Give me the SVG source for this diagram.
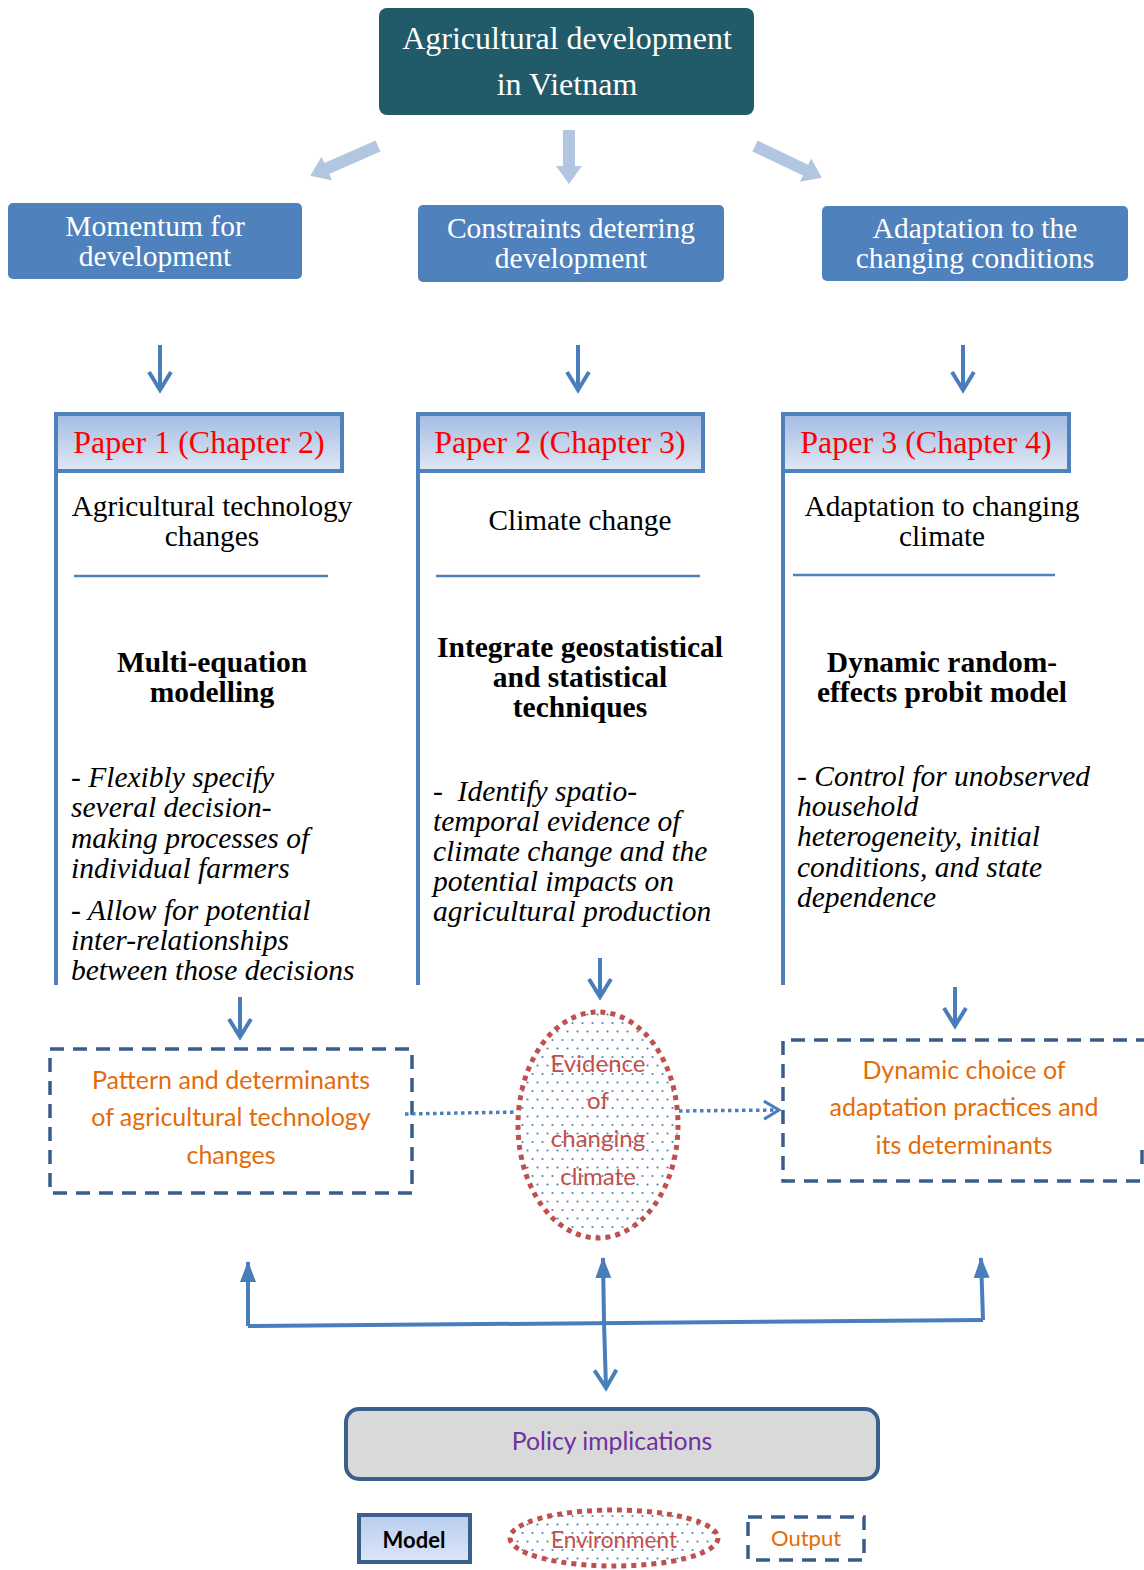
<svg xmlns="http://www.w3.org/2000/svg" width="1144" height="1570" viewBox="0 0 1144 1570">
<style>
.top{font-family:"Liberation Serif",serif;font-size:32px;fill:#fff;text-anchor:middle}
.theme{font-family:"Liberation Serif",serif;font-size:29.5px;fill:#fff;text-anchor:middle}
.hdr{font-family:"Liberation Serif",serif;font-size:32px;fill:#ff0000;text-anchor:middle}
.sub{font-family:"Liberation Serif",serif;font-size:29.3px;fill:#000;text-anchor:middle}
.bold{font-family:"Liberation Serif",serif;font-size:29.5px;font-weight:bold;fill:#000;text-anchor:middle}
.ital{font-family:"Liberation Serif",serif;font-size:29.5px;font-style:italic;fill:#000}
.out{font-family:Lato,"Open Sans",sans-serif;font-size:25px;fill:#e36c09;text-anchor:middle}
.env{font-family:Lato,"Open Sans",sans-serif;font-size:24px;fill:#c0504d;text-anchor:middle}
.pol{font-family:Lato,"Open Sans",sans-serif;font-size:24.8px;fill:#7030a0;text-anchor:middle}
.theme-box{fill:#4f81bd}
.hbox{fill:url(#hgrad);stroke:#4f81bd;stroke-width:4}
.vline{stroke:#4f81bd;stroke-width:4;fill:none}
.sep{stroke:#4f81bd;stroke-width:2.5}
.dash{fill:#fff;stroke:#385d8a;stroke-width:3.5;stroke-dasharray:14 9}
.ell{fill:url(#dots);stroke:#c0504d;stroke-width:5;stroke-dasharray:5 5}
.arr{stroke:#4a7ebb;stroke-width:4;fill:none}
.dot{stroke:#4a7ebb;stroke-width:3.5;fill:none;stroke-dasharray:3.5 3.5}
.light{fill:#b3c6e0}
</style>
<defs>
<linearGradient id="hgrad" x1="0" y1="0" x2="0" y2="1">
<stop offset="0" stop-color="#a3bce2"/>
<stop offset="1" stop-color="#e0e8f5"/>
</linearGradient>
<linearGradient id="mgrad" x1="0" y1="0" x2="0" y2="1">
<stop offset="0" stop-color="#b9cdee"/>
<stop offset="1" stop-color="#dbe6f8"/>
</linearGradient>
<pattern id="dots" width="10" height="17" patternUnits="userSpaceOnUse">
<rect width="10" height="17" fill="#fff"/>
<circle cx="2.5" cy="3" r="1.1" fill="#4f81bd"/>
<circle cx="7.5" cy="11.5" r="1.1" fill="#4f81bd"/>
</pattern>
<marker id="vhead" markerUnits="userSpaceOnUse" markerWidth="24" markerHeight="26" viewBox="0 0 24 26" refX="20" refY="13" orient="auto">
<path d="M2,2 L20,13 L2,24" fill="none" stroke="#4a7ebb" stroke-width="4" stroke-linejoin="miter"/>
</marker>
<marker id="vsmall" markerUnits="userSpaceOnUse" markerWidth="20" markerHeight="22" viewBox="0 0 20 22" refX="17" refY="11" orient="auto">
<path d="M2,2 L17,11 L2,20" fill="none" stroke="#4a7ebb" stroke-width="3"/>
</marker>
<marker id="tri" markerUnits="userSpaceOnUse" markerWidth="22" markerHeight="18" viewBox="0 0 22 18" refX="20" refY="9" orient="auto">
<path d="M0,1 L21,9 L0,17 Z" fill="#4a7ebb"/>
</marker>
</defs>

<g id="root-node">
<rect x="379" y="8" width="375" height="107" rx="8" fill="#215a69"/>
<text class="top" x="567" y="49">Agricultural development</text>
<text class="top" x="567" y="95">in Vietnam</text>
</g>

<g id="theme-momentum">
<rect class="theme-box" x="8" y="203" width="294" height="76" rx="5"/>
<text class="theme" x="155" y="236">Momentum for</text>
<text class="theme" x="155" y="266">development</text>
</g>
<g id="theme-constraints">
<rect class="theme-box" x="418" y="205" width="306" height="77" rx="5"/>
<text class="theme" x="571" y="238">Constraints deterring</text>
<text class="theme" x="571" y="268">development</text>
</g>
<g id="theme-adaptation">
<rect class="theme-box" x="822" y="206" width="306" height="75" rx="5"/>
<text class="theme" x="975" y="238">Adaptation to the</text>
<text class="theme" x="975" y="268">changing conditions</text>
</g>

<g id="paper1">
<path class="vline" d="M56,472 V985"/>
<rect class="hbox" x="56" y="414" width="286" height="57"/>
<text class="hdr" x="199" y="453">Paper 1 (Chapter 2)</text>
<text class="sub" x="212" y="516">Agricultural technology</text>
<text class="sub" x="212" y="546">changes</text>
<line class="sep" x1="74" y1="576" x2="328" y2="576"/>
<text class="bold" x="212" y="672">Multi-equation</text>
<text class="bold" x="212" y="702">modelling</text>
<text class="ital" x="71" y="787">- Flexibly specify</text>
<text class="ital" x="71" y="817">several decision-</text>
<text class="ital" x="71" y="848">making processes of</text>
<text class="ital" x="71" y="878">individual farmers</text>
<text class="ital" x="71" y="920">- Allow for potential</text>
<text class="ital" x="71" y="950">inter-relationships</text>
<text class="ital" x="71" y="980">between those decisions</text>
</g>

<g id="paper2">
<path class="vline" d="M418,472 V985"/>
<rect class="hbox" x="418" y="414" width="285" height="57"/>
<text class="hdr" x="560" y="453">Paper 2 (Chapter 3)</text>
<text class="sub" x="580" y="530">Climate change</text>
<line class="sep" x1="436" y1="576" x2="700" y2="576"/>
<text class="bold" x="580" y="657">Integrate geostatistical</text>
<text class="bold" x="580" y="687">and statistical</text>
<text class="bold" x="580" y="717">techniques</text>
<text class="ital" x="433" y="801" xml:space="preserve">-  Identify spatio-</text>
<text class="ital" x="433" y="831">temporal evidence of</text>
<text class="ital" x="433" y="861">climate change and the</text>
<text class="ital" x="433" y="891">potential impacts on</text>
<text class="ital" x="433" y="921">agricultural production</text>
</g>

<g id="paper3">
<path class="vline" d="M783,472 V985"/>
<rect class="hbox" x="783" y="414" width="286" height="57"/>
<text class="hdr" x="926" y="453">Paper 3 (Chapter 4)</text>
<text class="sub" x="942" y="516">Adaptation to changing</text>
<text class="sub" x="942" y="546">climate</text>
<line class="sep" x1="793" y1="575" x2="1055" y2="575"/>
<text class="bold" x="942" y="672">Dynamic random-</text>
<text class="bold" x="942" y="702">effects probit model</text>
<text class="ital" x="797" y="786">- Control for unobserved</text>
<text class="ital" x="797" y="816">household</text>
<text class="ital" x="797" y="846">heterogeneity, initial</text>
<text class="ital" x="797" y="877">conditions, and state</text>
<text class="ital" x="797" y="907">dependence</text>
</g>

<g id="output1">
<rect class="dash" x="50" y="1049" width="362" height="144"/>
<text class="out" x="231" y="1089">Pattern and determinants</text>
<text class="out" x="231" y="1126">of agricultural technology</text>
<text class="out" x="231" y="1164">changes</text>
</g>

<g id="environment">
<ellipse class="ell" cx="598" cy="1125" rx="80" ry="113"/>
<text class="env" x="598" y="1072">Evidence</text>
<text class="env" x="598" y="1109">of</text>
<text class="env" x="598" y="1147">changing</text>
<text class="env" x="598" y="1185">climate</text>
</g>

<g id="output3">
<path class="dash" d="M1150,1040 H783 V1181 H1150"/>
<path class="dash" d="M1142,1150 V1170" fill="none"/>
<text class="out" x="964" y="1079">Dynamic choice of</text>
<text class="out" x="964" y="1116">adaptation practices and</text>
<text class="out" x="964" y="1154">its determinants</text>
</g>

<g id="policy">
<rect x="346" y="1409" width="532" height="70" rx="13" fill="#d9d9d9" stroke="#3b5f8d" stroke-width="4"/>
<text class="pol" x="612" y="1450">Policy implications</text>
</g>

<g id="legend">
<g id="legend-model">
<rect x="359" y="1515" width="111" height="47" fill="url(#mgrad)" stroke="#3b5f8d" stroke-width="4"/>
<text x="414" y="1548" font-family="Lato,'Open Sans',sans-serif" font-size="22" font-weight="bold" text-anchor="middle" fill="#000">Model</text>
</g>
<g id="legend-environment">
<ellipse class="ell" cx="614" cy="1538" rx="104" ry="28"/>
<text class="env" x="614" y="1548" font-size="22.5px" style="font-size:22.5px">Environment</text>
</g>
<g id="legend-output">
<rect class="dash" x="748" y="1517" width="116" height="43"/>
<text class="out" x="806" y="1546" style="font-size:22px">Output</text>
</g>
</g>

<g id="connectors">
<path class="light" transform="translate(378,146) rotate(156.2)" d="M0,-6 L56,-6 L56,-13 L74,0 L56,13 L56,6 L0,6 Z"/>
<path class="light" transform="translate(569,130) rotate(90)" d="M0,-6 L36,-6 L36,-13 L54,0 L36,13 L36,6 L0,6 Z"/>
<path class="light" transform="translate(755,146) rotate(25.5)" d="M0,-6 L56,-6 L56,-13 L74,0 L56,13 L56,6 L0,6 Z"/>

<path class="arr" d="M160,345 V390" marker-end="url(#vhead)"/>
<path class="arr" d="M578,345 V390" marker-end="url(#vhead)"/>
<path class="arr" d="M963,345 V390" marker-end="url(#vhead)"/>

<path class="arr" d="M240,997 V1037" marker-end="url(#vhead)"/>
<path class="arr" d="M600,958 V997" marker-end="url(#vhead)"/>
<path class="arr" d="M955,987 V1026" marker-end="url(#vhead)"/>

<path class="dot" d="M405,1114 L517,1112"/>
<path class="dot" d="M679,1111 L779,1110" marker-end="url(#vsmall)"/>

<path class="arr" d="M248,1326 L983,1320"/>
<path class="arr" d="M248,1326 V1262" marker-end="url(#tri)"/>
<path class="arr" d="M983,1320 L981,1258" marker-end="url(#tri)"/>
<path class="arr" d="M604,1322 L603,1258" marker-end="url(#tri)"/>
<path class="arr" d="M604,1322 L606,1388" marker-end="url(#vhead)"/>
</g>
</svg>
